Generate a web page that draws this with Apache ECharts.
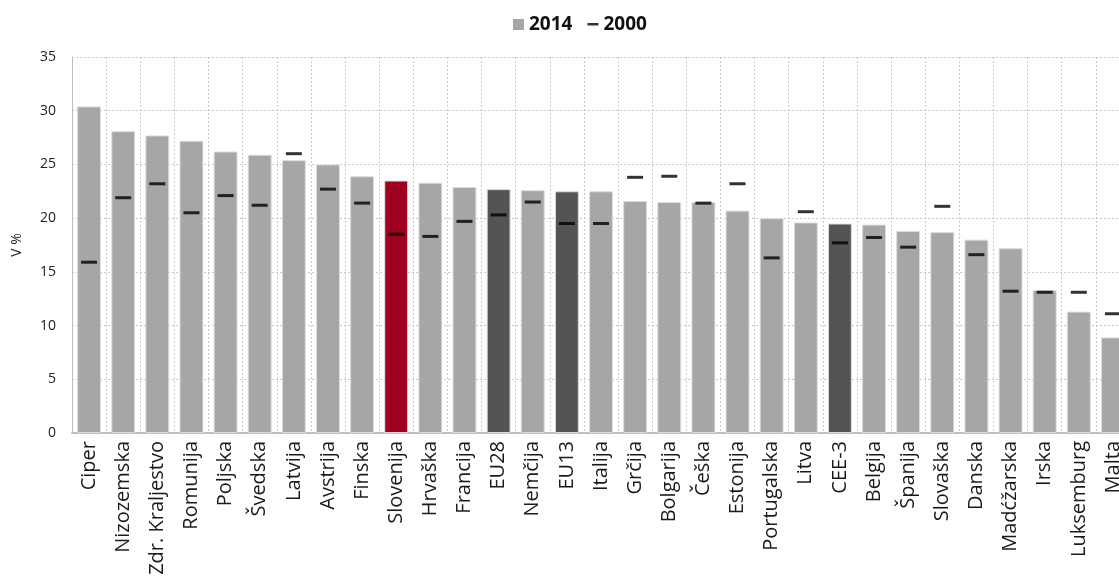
<!DOCTYPE html>
<html><head><meta charset="utf-8">
<script src="https://cdn.jsdelivr.net/npm/echarts@6/dist/echarts.min.js"></script>
<style>html,body{margin:0;padding:0;background:#fff}#c{width:1119px;height:586px}</style>
</head><body><div id="c"></div>
<script>
const categories = ["Ciper","Nizozemska","Zdr. Kraljestvo","Romunija","Poljska","Švedska","Latvija","Avstrija","Finska","Slovenija","Hrvaška","Francija","EU28","Nemčija","EU13","Italija","Grčija","Bolgarija","Češka","Estonija","Portugalska","Litva","CEE-3","Belgija","Španija","Slovaška","Danska","Madćžarska","Irska","Luksemburg","Malta"];
const values2014 = [30.4,28.1,27.7,27.2,26.2,25.9,25.4,25.0,23.9,23.5,23.3,22.9,22.7,22.6,22.5,22.5,21.6,21.5,21.5,20.7,20.0,19.6,19.5,19.4,18.8,18.7,18.0,17.2,13.3,11.3,8.9];
const values2000 = [15.9,21.9,23.2,20.5,22.1,21.2,26.0,22.7,21.4,18.5,18.3,19.7,20.3,21.5,19.5,19.5,23.8,23.9,21.4,23.2,16.3,20.6,17.7,18.2,17.3,21.1,16.6,13.2,13.1,13.1,11.1];
const highlight = {"Slovenija":"#9e0020","EU28":"#545454","EU13":"#545454","CEE-3":"#545454"};
const yTicks = {min:0,max:35,interval:5};
const FONT = "Open Sans";

const chart = echarts.init(document.getElementById('c'));
chart.setOption({
  animation:false,
  textStyle:{fontFamily:FONT},
  legend:{
    top:10,left:508,itemGap:15,itemWidth:11,itemHeight:11,
    textStyle:{fontSize:19,fontWeight:'bold',color:'#111',fontFamily:FONT},
    data:[{name:'2014',icon:'rect',itemStyle:{color:'#a6a6a6',borderWidth:0}},
          {name:'2000',icon:'path://M0,0L11,0L11,0.01Z M0,4H11V6.5H0Z M0,11L11,11L11,11.01Z',itemStyle:{color:'#000'}}]
  },
  grid:{left:72,width:1058,top:57,bottom:153,containLabel:false,outerBoundsMode:'none'},
  xAxis:{
    type:'category',data:categories,
    axisLine:{lineStyle:{color:'#bfbfbf',width:2}},
    axisTick:{show:false},
    axisLabel:{rotate:90,interval:0,fontSize:20,color:'#1a1a1a',margin:8,fontFamily:FONT},
    splitLine:{show:true,lineStyle:{color:'#c8c8c8',type:[2,2],width:1}}
  },
  yAxis:{
    type:'value',min:yTicks.min,max:yTicks.max,interval:yTicks.interval,
    name:'V %',nameLocation:'middle',nameGap:48,nameRotate:90,
    nameTextStyle:{fontSize:14,color:'#222',fontFamily:FONT},
    axisLine:{show:true,lineStyle:{color:'#bfbfbf',width:1}},
    axisTick:{show:false},
    axisLabel:{fontSize:14,color:'#222',margin:16,fontFamily:FONT},
    splitLine:{show:true,lineStyle:{color:'#c8c8c8',type:[2,2],width:1}}
  },
  series:[
    {name:'2014',type:'bar',barCategoryGap:'30%',
     data:values2014.map((v,i)=>({value:v,itemStyle:{color:highlight[categories[i]]||'#a6a6a6'}})),
     itemStyle:{color:'#a6a6a6',borderColor:'#dcdcdc',borderWidth:1},
     z:2},
    {name:'2000',type:'scatter',symbol:'rect',symbolSize:[16,3],
     data:values2000,itemStyle:{color:'#000'},z:5}
  ]
});
</script></body></html>
